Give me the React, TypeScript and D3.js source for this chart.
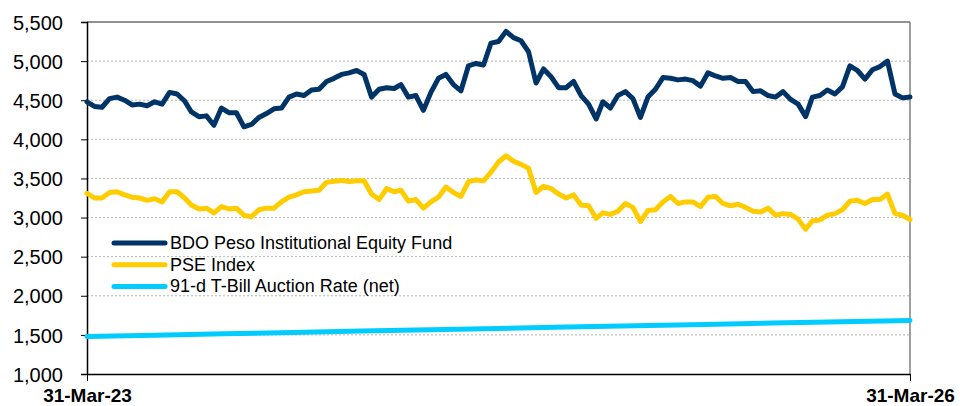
import * as d3 from 'd3';
import { useEffect, useRef } from 'react';

// sampled every ~10 days, 31-Mar-23 .. 31-Mar-26
const bdoFund = [
    4480, 4420, 4410, 4520, 4540, 4500, 4440, 4450, 4430, 4480,
    4450, 4600, 4580, 4490, 4350, 4290, 4300, 4180, 4400, 4340,
    4340, 4160, 4190, 4280, 4330, 4390, 4400, 4540, 4580, 4560,
    4630, 4640, 4740, 4780, 4830, 4850, 4880, 4830, 4540, 4640,
    4660, 4650, 4700, 4540, 4560, 4370, 4600, 4780, 4830, 4700,
    4620, 4940, 4970, 4950, 5230, 5250, 5380, 5300, 5260, 5120,
    4720, 4900, 4800, 4660, 4660, 4740, 4560, 4450, 4260, 4480,
    4400, 4560, 4610, 4520, 4280, 4540, 4640, 4790, 4780, 4760,
    4770, 4750, 4680, 4850, 4810, 4780, 4790, 4740, 4740, 4610,
    4620, 4560, 4540, 4610, 4510, 4450, 4290, 4540, 4560, 4630,
    4580, 4670, 4940, 4880, 4770, 4890, 4930, 5000, 4580, 4530,
    4540,
];

const pseIndex = [
    3310, 3250, 3250, 3320, 3330, 3290, 3260, 3250, 3220, 3240,
    3200, 3330, 3330, 3250, 3160, 3110, 3120, 3060, 3140, 3110,
    3120, 3030, 3010, 3100, 3120, 3120, 3200, 3260, 3290, 3330,
    3340, 3350, 3450, 3465, 3475, 3460, 3470, 3470, 3300, 3230,
    3370, 3330, 3350, 3210, 3230, 3120, 3200, 3260, 3390, 3320,
    3270, 3460, 3480, 3470, 3580, 3710, 3790, 3720, 3680, 3630,
    3320, 3400, 3370, 3300, 3250, 3290, 3160, 3150, 2990, 3060,
    3040, 3080, 3180, 3130, 2950, 3090, 3100, 3200, 3270, 3180,
    3200, 3200, 3140, 3260, 3270, 3180, 3150, 3170, 3130, 3080,
    3070, 3120, 3030, 3050, 3040, 2980, 2850, 2960, 2970, 3030,
    3050, 3100, 3210, 3220, 3180, 3230, 3230, 3300, 3050, 3030,
    2975,
];

// quarterly
const tbillRate = [1480, 1496, 1513, 1531, 1549, 1566, 1583, 1600, 1617, 1634, 1651, 1668, 1685];

const seriesNames = ['BDO Peso Institutional Equity Fund', 'PSE Index', '91-d T-Bill Auction Rate (net)'];
const seriesColors = ['#003366', '#FFCC00', '#00CCFF'];
const yTicks = [1000, 1500, 2000, 2500, 3000, 3500, 4000, 4500, 5000, 5500];
const startDate = new Date(2023, 2, 31);
const endDate = new Date(2026, 2, 31);
const fmt = d3.timeFormat('%d-%b-%y');

function App() {
    const ref = useRef(null);

    useEffect(() => {
        const width = 960, height = 406;
        const left = 87, right = 910, top = 22, bottom = 374;
        const svg = d3.select(ref.current)
            .append('svg')
            .attr('width', width)
            .attr('height', height)
            .style('position', 'absolute')
            .style('left', 0)
            .style('top', 0)
            .style('font-family', 'Arial, "Liberation Sans", sans-serif');

        const x = d3.scaleTime().domain([startDate, endDate]).range([left, right]);
        const y = d3.scaleLinear().domain([1000, 5500]).range([bottom, top]);

        const totalDays = d3.timeDay.count(startDate, endDate);
        const datesFor = (n: number) => d3.range(n).map(i => d3.timeDay.offset(startDate, Math.round(i * totalDays / (n - 1))));

        // grid
        svg.append('g')
            .selectAll('line')
            .data(yTicks.filter(v => v > 1000 && v < 5500))
            .join('line')
            .attr('x1', left).attr('x2', right)
            .attr('y1', d => y(d)).attr('y2', d => y(d))
            .attr('stroke', '#b3b3b3')
            .attr('stroke-width', 1)
            .attr('stroke-dasharray', '2,2');

        // frame top + right
        svg.append('line').attr('x1', left).attr('x2', right).attr('y1', y(5500)).attr('y2', y(5500))
            .attr('stroke', '#222').attr('stroke-width', 1.2);
        svg.append('line').attr('x1', right).attr('x2', right).attr('y1', y(5500)).attr('y2', y(1000))
            .attr('stroke', '#808080').attr('stroke-width', 1.5);

        // y axis
        const yAxis = d3.axisLeft(y).tickValues(yTicks).tickSize(6).tickFormat(d3.format(','));
        const gy = svg.append('g').attr('transform', `translate(${left},0)`).call(yAxis);
        gy.select('.domain').attr('stroke', '#000').attr('stroke-width', 1.5);
        gy.selectAll('.tick line').attr('stroke', '#000');
        gy.selectAll('.tick text')
            .attr('x', -24)
            .attr('dy', '0.36em')
            .attr('fill', '#000')
            .style('font-size', '20px')
            .style('font-family', 'Arial, "Liberation Sans", sans-serif');

        // x axis
        const xAxis = d3.axisBottom(x).tickValues([startDate, endDate]).tickSize(7).tickSizeOuter(0).tickFormat(d => fmt(d as Date));
        const gx = svg.append('g').attr('transform', `translate(0,${bottom})`).call(xAxis);
        gx.select('.domain').attr('stroke', '#000').attr('stroke-width', 1.5);
        gx.selectAll('.tick line').attr('stroke', '#000');
        gx.selectAll('.tick text')
            .attr('y', 28)
            .attr('dy', 0)
            .attr('fill', '#000')
            .style('font-size', '19px')
            .style('font-weight', 'bold')
            .style('font-family', 'Arial, "Liberation Sans", sans-serif');

        const line = d3.line<[Date, number]>()
            .x(d => x(d[0]))
            .y(d => y(d[1]));

        const all = [bdoFund, pseIndex, tbillRate].map(vals => {
            const ds = datesFor(vals.length);
            return vals.map((v, i) => [ds[i], v] as [Date, number]);
        });

        [2, 1, 0].forEach(k => {
            svg.append('path')
                .datum(all[k])
                .attr('fill', 'none')
                .attr('stroke', seriesColors[k])
                .attr('stroke-width', 5)
                .attr('stroke-linejoin', 'round')
                .attr('stroke-linecap', 'round')
                .attr('d', line);
        });

        // legend
        const lg = svg.append('g').attr('transform', 'translate(112,243)');
        seriesNames.forEach((name, i) => {
            const row = lg.append('g').attr('transform', `translate(0,${i * 21.7})`);
            row.append('line')
                .attr('x1', 2).attr('x2', 53)
                .attr('stroke', seriesColors[i])
                .attr('stroke-width', 5)
                .attr('stroke-linecap', 'round');
            row.append('text')
                .attr('x', 58)
                .attr('y', 6)
                .attr('fill', '#000')
                .style('font-size', '18px')
                .text(name);
        });

        return () => {
            svg.remove();
        };
    }, []);

    return (
        <div ref={ref} />
    );
}

export default App;
